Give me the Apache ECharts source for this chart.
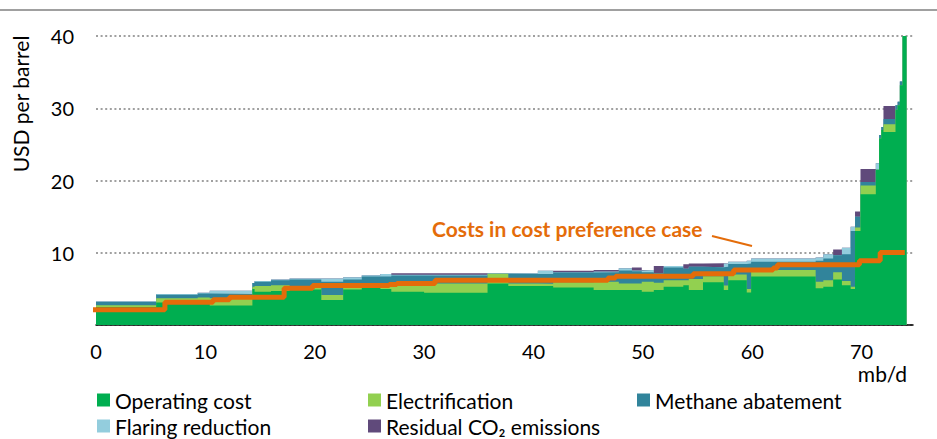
<!DOCTYPE html>
<html><head><meta charset="utf-8">
<script src="https://cdn.jsdelivr.net/npm/echarts@6/dist/echarts.min.js"></script>
<style>html,body{margin:0;padding:0;background:#fff}#c{width:937px;height:439px}</style>
</head><body><div id="c"></div>
<script>
// Segment starts (mb/d); each segment runs until the next start, last one until segEnd
const segStart = [0, 5.5, 9.3, 10.4, 14.3, 14.5, 16.0, 17.7, 20.6, 22.6, 24.3, 26.0, 27.0, 30.0, 35.8, 37.7, 40.4, 41.8, 45.5, 47.8, 49.0, 49.9, 51.0, 51.9, 53.7, 54.2, 55.5, 57.4, 57.8, 59.5, 59.9, 65.8, 66.5, 67.4, 68.2, 69.0, 69.4, 69.9, 71.3, 71.6, 71.8, 72.0, 73.1, 73.3, 73.5, 73.75];
const segEnd = 74.1;
// USD per barrel, per segment
const operatingCost = [2.5, 3.1, 3.1, 2.7, 5.0, 4.6, 4.7, 4.9, 3.45, 4.9, 5.2, 5.0, 4.6, 4.45, 5.75, 5.4, 5.4, 5.2, 4.85, 4.85, 4.85, 4.6, 4.85, 5.3, 5.5, 4.85, 5.9, 4.85, 6.2, 4.5, 6.7, 5.1, 5.3, 6.3, 5.5, 5.0, 13.0, 18.1, 21.5, 25.8, 27.0, 26.7, 29.8, 30.4, 33.2, 40];
const electrification = [0.25, 0.6, 0.7, 1.0, 0.3, 0.8, 0.8, 0.4, 0.7, 0.4, 0.6, 0.5, 0.9, 1.3, 1.35, 0.35, 0.3, 0.7, 1.15, 0.9, 0.9, 1.4, 1.0, 0.9, 0.7, 1.5, 0.85, 0.6, 0.8, 0.5, 0.9, 0.9, 0.9, 1.0, 0.6, 0.3, 0.5, 1.2, 0, 0, 0, 1.1, 0, 0, 0, 0];
const methaneAbatement = [0.45, 0.5, 0.55, 0.6, 0.5, 0.6, 0.7, 1.0, 1.85, 1.0, 0.9, 1.2, 1.35, 1.1, 0, 1.3, 1.35, 1.35, 1.3, 1.8, 1.7, 1.3, 1.3, 1.75, 1.6, 1.7, 1.25, 2.6, 1.45, 3.5, 1.15, 2.9, 3.0, 2.35, 3.7, 7.7, 1.5, 0.5, 0, 0.5, 0.4, 0.7, 0.6, 0.5, 0.5, 0];
const flaringReduction = [0.1, 0.1, 0.1, 0.45, 0, 0.1, 0.1, 0.15, 0.45, 0.3, 0.2, 0.35, 0.1, 0.1, 0.05, 0.1, 0.45, 0.05, 0.1, 0.3, 0.1, 0.3, 0, 0.2, 0, 0, 0, 0.45, 0.3, 0.4, 0.45, 0.45, 0.6, 0, 0.9, 0.6, 0, 0, 0.9, 0, 0, 0, 0, 0, 0, 0];
const residualCO2 = [0, 0, 0, 0, 0, 0, 0, 0, 0, 0, 0, 0, 0.2, 0.2, 0, 0, 0, 0.2, 0.2, 0, 0.4, 0, 1.0, 0, 0.6, 0.45, 0.55, 0, 0, 0, 0, 0, 0, 0.8, 0, 0, 0.7, 1.8, 0, 0, 0, 1.8, 0, 0, 0, 0];
// Costs in cost preference case (step line)
const prefX = [-0.35, 6.3, 10.7, 12.2, 17.2, 19.8, 26.8, 27.5, 31.0, 46.8, 47.5, 54.6, 58.3, 61.9, 62.3, 69.8, 71.7, 73.95];
const prefY = [2.1, 3.15, 3.5, 3.85, 5.1, 5.45, 5.6, 5.75, 6.2, 6.5, 6.75, 7.1, 7.6, 7.9, 8.35, 8.9, 10.05, 10.05];

const names = ['Operating cost', 'Electrification', 'Methane abatement', 'Flaring reduction', 'Residual CO\u2082 emissions'];
const colors = ['#00ae50', '#92d050', '#31849b', '#93cddd', '#604a7b'];
const comps = [operatingCost, electrification, methaneAbatement, flaringReduction, residualCO2];
const FONT = 'Lato, "Open Sans", sans-serif';

// cumulative tops
const cum = [];
comps.forEach((arr, k) => {
  cum.push(arr.map((v, i) => v + (k ? cum[k - 1][i] : 0)));
});
function stepData(vals) {
  const d = segStart.map((x, i) => [x, +vals[i].toFixed(3)]);
  d.push([segEnd, +vals[vals.length - 1].toFixed(3)]);
  return d;
}
const series = [];
for (let k = comps.length - 1; k >= 0; k--) {
  series.push({
    name: names[k], type: 'line', step: 'end', data: stepData(cum[k]),
    showSymbol: false, symbol: 'none', color: colors[k],
    itemStyle: {color: colors[k]},
    lineStyle: {width: 0, opacity: 0},
    areaStyle: {color: colors[k], opacity: 1},
    silent: true, animation: false
  });
}
series.push({
  name: 'Costs in cost preference case', type: 'line', step: 'end',
  data: prefX.map((x, i) => [x, prefY[i]]), showSymbol: false, symbol: 'none',
  clip: false, lineStyle: {color: '#e46c0a', width: 5}, z: 5, animation: false, silent: true
});

const legendPos = [[97, 388], [368, 388], [637, 388], [97, 414], [368, 414]];
const legends = names.map((n, k) => ({
  left: legendPos[k][0], top: legendPos[k][1], padding: 0, itemWidth: 13, itemHeight: 13, itemGap: 0,
  selectedMode: false, icon: 'rect',
  data: [{name: n, icon: 'rect', itemStyle: {color: colors[k]}}],
  textStyle: {fontFamily: FONT, fontSize: 21, lineHeight: 24, color: '#000', padding: [0, 0, 0, 0]}
}));

const chart = echarts.init(document.getElementById('c'), null, {renderer: 'svg'});
chart.setOption({
  animation: false,
  grid: {left: 96, right: 24, top: 36, bottom: 114, containLabel: false},
  xAxis: {
    type: 'value', min: 0, max: 74.7, interval: 10,
    axisLine: {show: true, lineStyle: {color: '#000', width: 1.5}},
    axisTick: {show: false}, splitLine: {show: false},
    axisLabel: {margin: 16, fontFamily: FONT, fontSize: 20, color: '#000', showMaxLabel: false}
  },
  yAxis: {
    type: 'value', min: 0, max: 40, interval: 10,
    axisLine: {show: false}, axisTick: {show: false},
    splitLine: {show: true, lineStyle: {color: '#a0a0a0', width: 2, type: [2, 2.6]}},
    axisLabel: {margin: 22, fontFamily: FONT, fontSize: 20, color: '#000', showMinLabel: false}
  },
  legend: legends,
  series: series,
  graphic: [
    {type: 'line', shape: {x1: 0, y1: 10, x2: 937, y2: 10}, style: {stroke: '#a0a0a0', lineWidth: 2}},
    {type: 'text', x: 20, y: 104, rotation: Math.PI / 2,
     style: {text: 'USD per barrel', font: '21px ' + FONT, fill: '#000', align: 'center', verticalAlign: 'middle'}},
    {type: 'text', x: 907, y: 373,
     style: {text: 'mb/d', font: '21px ' + FONT, fill: '#000', align: 'right', verticalAlign: 'middle'}},
    {type: 'text', x: 432, y: 228,
     style: {text: 'Costs in cost preference case', font: 'bold 21px ' + FONT, fill: '#e46c0a', align: 'left', verticalAlign: 'middle'}},
    {type: 'line', shape: {x1: 712, y1: 236, x2: 752, y2: 246}, style: {stroke: '#e46c0a', lineWidth: 2}}
  ]
});
</script></body></html>
